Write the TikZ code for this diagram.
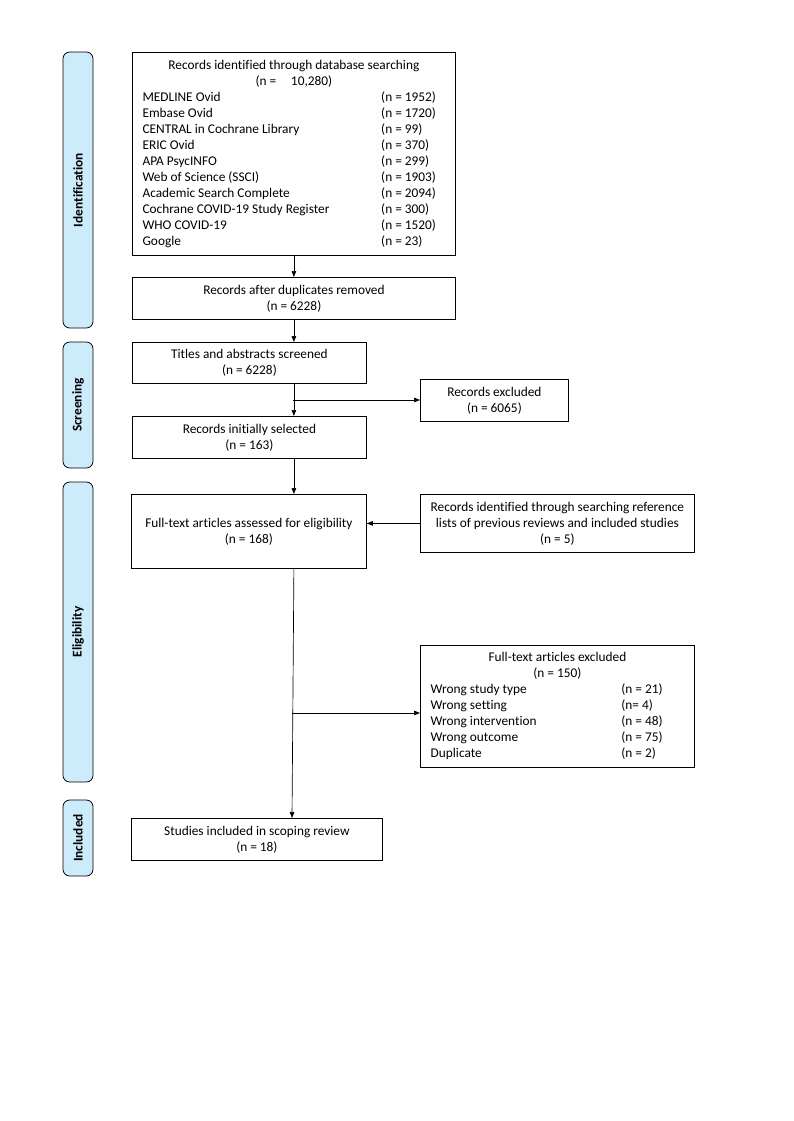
\documentclass[tikz,border=0pt]{standalone}
\usepackage{fontspec}
\setmainfont{Carlito}[Ligatures=NoCommon]
\usepackage{xcolor}
\usetikzlibrary{arrows.meta,positioning,calc}
\definecolor{phasebg}{RGB}{204,235,251}
\tikzset{
  box/.style={rectangle, draw, align=center, font=\fontsize{10}{12}\selectfont,
              inner sep=0pt, line width=0.6pt, anchor=north west},
  phase/.style={rectangle, draw, rounded corners=5pt, fill=phasebg, rotate=90,
                font=\fontsize{10}{12}\selectfont\bfseries, minimum height=30*0.75pt,
                inner sep=0pt, line width=0.6pt},
  wh/.style 2 args={minimum width=#1*0.75pt, minimum height=#2*0.75pt},
  fl/.style={-{Triangle[length=4.5pt,width=3.4pt]}, line width=0.5pt},
}

\begin{document}
\begin{tikzpicture}[x=0.75pt,y=-0.75pt]
\useasboundingbox (0,0) rectangle (793,1121);
\node[phase, minimum width=276*0.75pt] (idph) at (78,190) {Identification};
\node[phase, minimum width=126*0.75pt] (scph) at (78,405) {Screening};
\node[phase, minimum width=300*0.75pt] (elph) at (78,632) {Eligibility};
\node[phase, minimum width=76*0.75pt] (inph) at (78,838) {Included};
\node[box, wh={323}{203}] (ident) at (132,52) {\begin{tabular}{@{}p{179pt}@{}p{48pt}@{}}
  \multicolumn{2}{c}{Records identified through database searching}\\
  \multicolumn{2}{c}{(n =\hspace{1.1em}10,280)}\\
  MEDLINE Ovid & (n = 1952)\\
  Embase Ovid & (n = 1720)\\
  CENTRAL in Cochrane Library & (n = 99)\\
  ERIC Ovid & (n = 370)\\
  APA PsycINFO & (n = 299)\\
  Web of Science (SSCI) & (n = 1903)\\
  Academic Search Complete & (n = 2094)\\
  Cochrane COVID-19 Study Register & (n = 300)\\
  WHO COVID-19 & (n = 1520)\\
  Google & (n = 23)
\end{tabular}};
\node[box, wh={323}{42}] (dup) at (132,277) {Records after duplicates removed\\(n = 6228)};
\node[box, wh={234}{41}] (screen) at (132,342) {Titles and abstracts screened\\(n = 6228)};
\node[box, wh={148}{42}] (excl1) at (420,379) {Records excluded\\(n = 6065)};
\node[box, wh={234}{42}] (sel) at (132,416) {Records initially selected\\(n = 163)};
\node[box, wh={235}{74}] (full) at (131,494) {Full-text articles assessed for eligibility\\(n = 168)};
\node[box, wh={274}{58}] (other) at (420,494) {Records identified through searching reference\\lists of previous reviews and included studies\\(n = 5)};
\node[box, wh={274}{122}] (excl2) at (420,645) {\begin{tabular}{@{}p{143pt}@{}p{47pt}@{}}
  \multicolumn{2}{c}{Full-text articles excluded}\\
  \multicolumn{2}{c}{(n = 150)}\\
  Wrong study type & (n = 21)\\
  Wrong setting & (n= 4)\\
  Wrong intervention & (n = 48)\\
  Wrong outcome & (n = 75)\\
  Duplicate & (n = 2)
\end{tabular}};
\node[box, wh={251}{42}] (incl) at (131,818) {Studies included in scoping review\\(n = 18)};
\coordinate (j1) at (293,400);
\coordinate (j2) at (292,713);
\draw[fl] (ident.south) -- (dup.north);
\draw[fl] (dup.south) -- (dup.south |- screen.north);
\draw[fl] (screen.south -| dup.south) -- (sel.north -| dup.south);
\draw[fl] (j1) -- (j1 -| excl1.west);
\draw[fl] (sel.south -| dup.south) -- (full.north -| dup.south);
\draw[fl] (other.west) -- (other.west -| full.east);
\draw[fl] (full.south -| dup.south) -- (incl.north -| j2);
\draw[fl] (j2) -- (j2 -| excl2.west);
\end{tikzpicture}
\end{document}
